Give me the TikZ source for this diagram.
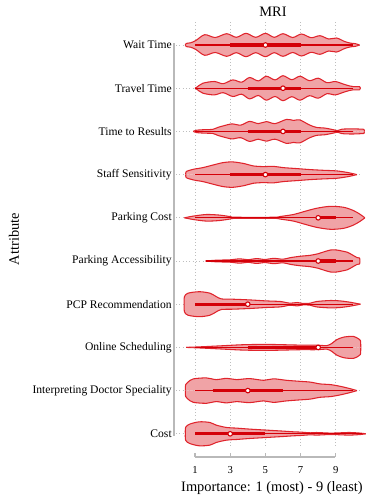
\documentclass[tikz,border=0pt]{standalone}
\usepackage{fontspec}
\setmainfont{Liberation Serif}
\usepackage{tikz}

\definecolor{vfillc}{RGB}{240,163,166}
\definecolor{vlinec}{RGB}{224,36,44}
\definecolor{vbarc}{RGB}{212,0,8}
\definecolor{axisc}{RGB}{185,185,185}
\definecolor{gridc}{RGB}{190,190,190}

\tikzset{
  vbody/.style={fill=vfillc, draw=vlinec, line width=0.8pt, line join=round},
  whisker/.style={draw=vbarc, line width=0.9pt},
  iqr/.style={draw=vbarc, line width=2.4pt},
  median/.style={fill=white, draw=vbarc, line width=0.8pt},
  gridline/.style={draw=gridc, line width=0.5pt, dotted},
  axisline/.style={draw=axisc, line width=1pt},
  attlab/.style={anchor=east, inner sep=0pt, font=\fontsize{8.7}{10}\selectfont},
  ticklab/.style={inner sep=0pt, font=\fontsize{8}{10}\selectfont},
  biglab/.style={inner sep=0pt, font=\fontsize{10.8}{13}\selectfont}
}

% one violin: row y, outline (value,half width), whisker lo/hi, box lo/hi, median
\newcommand{\violin}[7]{%
  \begin{scope}[shift={(177.4,#1)}, xscale=17.6]
    \filldraw[vbody] plot[smooth, tension=0.5] coordinates {#2};
    \filldraw[vbody, yscale=-1] plot[smooth, tension=0.5] coordinates {#2};
    \draw[whisker] (#3,0) -- (#4,0);
    \draw[iqr] (#5,0) -- (#6,0);
  \end{scope}
  \filldraw[median] ({177.4+17.6*#7},#1) circle (2.3);
}

\begin{document}
\begin{tikzpicture}[x=0.75pt, y=-0.75pt]
  \useasboundingbox (0,0) rectangle (366,497);

  % grid
  \foreach \v in {1,3,5,7,9}
    \draw[gridline] ({177.4+17.6*\v},22) -- ({177.4+17.6*\v},447);
  \foreach \i in {0,...,9}
    \draw[gridline] (176,{45+43.2*\i}) -- (362,{45+43.2*\i});

  % axes
  \draw[axisline] (174,43) -- (174,436);
  \draw[axisline] (195,457) -- (335,457);
  \foreach \v in {1,3,5,7,9}{
    \draw[axisline] ({177.4+17.6*\v},457) -- ({177.4+17.6*\v},452.5);
    \node[ticklab] (tick\v) at ({177.4+17.6*\v},470) {\v};
  }

  % violins
  \violin{45}{(0.45,0) (0.5,1.6) (0.75,2.2) (1.05,4.5) (1.55,10.3) (2.15,7.5) (2.8,11.3) (3.35,7.7) (3.9,11.7) (4.45,7.7) (5,11.7) (5.5,7.7) (6,11.3) (6.55,7.5) (7.05,11) (7.6,7.3) (8.1,9.3) (8.6,6) (9.05,7) (9.5,3.5) (9.85,1.8) (10.1,1.4) (10.35,0)}{1}{10}{3}{7}{5}
  \violin{88.2}{(1.0,0) (1.1,1) (1.45,5) (2.1,6.7) (2.6,4.5) (3.15,8.3) (3.65,6) (4.1,10.7) (4.6,7.3) (5.05,12) (5.55,8.3) (6,12.5) (6.5,8.5) (6.97,12) (7.5,7.5) (8,10) (8.5,5.5) (8.97,6.7) (9.45,4) (9.8,2.2) (10,1.6) (10.35,1.6) (10.4,0)}{1}{10}{4}{7}{6}
  \violin{131.4}{(0.9,0) (1.1,1.2) (1.6,1.8) (2.0,2) (2.3,4) (2.6,5.5) (3.1,7.5) (3.6,6.3) (4.1,10) (4.6,7.8) (5.05,9.8) (5.55,7.8) (6.2,12) (6.6,11) (6.95,11.5) (7.5,6.5) (7.9,4) (8.4,3.3) (8.85,1.7) (9.1,0.8) (9.35,2.2) (9.9,2.6) (10.4,2.3) (10.6,2) (10.62,0)}{1}{10}{4}{7}{6}
  \violin{174.6}{(0.48,0) (0.5,3) (0.9,5.3) (1.45,7) (2.05,9.7) (2.6,12) (3.15,12.7) (3.8,11) (4.3,8.7) (4.9,8) (5.45,8.3) (6,7) (6.8,6) (7.55,5) (8.3,4.3) (9.05,3.7) (9.7,2) (10.2,0)}{1}{10}{3}{7}{5}
  \violin{217.8}{(0.4,0) (0.9,1.7) (1.65,3.3) (2.4,2.7) (3,1.2) (3.2,0.6) (4.4,0.5) (5.6,0.6) (5.85,1.3) (6.6,3.3) (7.15,6) (7.9,9.5) (8.7,11.5) (9.45,10.5) (10,7.3) (10.4,3.3) (10.65,0)}{1}{10}{8}{9}{8}
  \violin{261}{(1.6,0) (2.2,0.8) (3,1.2) (3.55,2.2) (4,1.3) (4.5,2.4) (5,1.5) (5.45,2.7) (6,1.8) (6.4,3.3) (6.95,4.7) (7.55,5.7) (8,7.3) (8.3,9) (8.7,11) (9.05,11) (9.35,10) (9.65,8.8) (9.9,6.5) (10.2,3.5) (10.35,3) (10.37,0)}{1.6}{10}{8}{9}{8}
  \violin{304.2}{(0.38,0) (0.4,7.5) (0.6,11) (1.25,12.5) (1.85,11) (2.2,7.7) (2.5,5.3) (3.15,5) (4.1,4.3) (5.05,3.3) (5.85,2.7) (6.4,1) (6.8,1.7) (7.15,0.7) (7.55,1) (7.9,2.7) (8.7,3.7) (9.25,3.3) (9.8,2) (10.4,0)}{1}{10}{1}{4}{4}
  \violin{347.4}{(0.5,0) (1.45,0.7) (2.6,1.7) (3.75,2.7) (5.05,3) (6,2.7) (7,2.3) (7.9,2.3) (8.5,1.8) (8.8,4.3) (9.05,7.7) (9.45,10.3) (10,11) (10.3,8.5) (10.4,7) (10.42,0)}{1}{10}{4}{8}{8}
  \violin{390.6}{(0.45,0) (0.47,6) (0.6,8.5) (0.9,11.7) (1.65,12.7) (2.2,11) (2.8,12.3) (3.35,11) (4.1,12) (4.9,10.3) (5.45,11.8) (6.2,10.3) (6.95,9.3) (7.55,8.5) (8.1,6.7) (8.7,6) (9.25,4.3) (9.8,2) (10.2,0)}{1}{10}{2}{6}{4}
  \violin{433.8}{(0.45,0) (0.47,6.5) (0.7,9.7) (1.25,12) (1.85,11.3) (2.2,8.7) (2.8,6.3) (3.35,5.7) (4.1,4.7) (5.05,3.7) (6,2.7) (6.6,2) (7,1.7) (7.55,1) (7.9,1.3) (8.7,0.7) (9.25,1) (9.8,1.3) (10.4,0.7) (10.7,0)}{1}{10.5}{1}{5}{3}

  % labels
  \foreach \name [count=\i] in {Wait Time, Travel Time, Time to Results, Staff Sensitivity, Parking Cost, Parking Accessibility, PCP Recommendation, Online Scheduling, Interpreting Doctor Speciality, Cost}
    \node[attlab] (att\i) at (172,{45+43.2*(\i-1)}) {\name};
  \node[biglab] (title) at (273,12) {MRI};
  \node[biglab] (xlab) at (272,488) {Importance: 1 (most) - 9 (least)};
  \node[biglab, rotate=90] (ylab) at (14,239) {Attribute};
\end{tikzpicture}
\end{document}
